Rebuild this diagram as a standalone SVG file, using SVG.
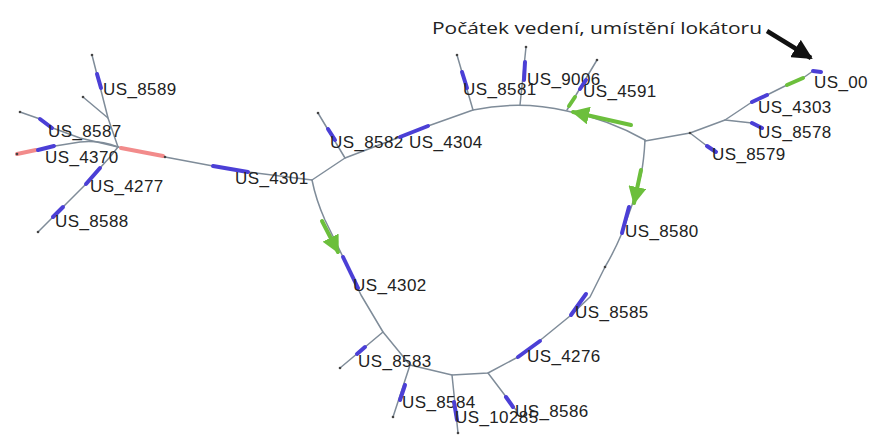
<svg xmlns="http://www.w3.org/2000/svg" width="869" height="436" viewBox="0 0 869 436">
<defs>
<style>
.e{fill:none;stroke:#7f8c99;stroke-width:1.5;stroke-linecap:round;stroke-linejoin:round}
.b{fill:none;stroke:#4b3fd6;stroke-width:4;stroke-linecap:round}
.p{fill:none;stroke:#f28b8b;stroke-width:4;stroke-linecap:round}
.g{fill:none;stroke:#6cbf3c;stroke-width:4;stroke-linecap:round}
.l{font-family:"Liberation Sans",Arial,sans-serif;font-size:17px;fill:#222;letter-spacing:0.4px}
.t{font-family:"Open Sans","Noto Sans",sans-serif;font-size:17px;fill:#222}
.d{fill:#444}
</style>
<marker id="ga" viewBox="0 0 10 10" refX="9" refY="5" markerWidth="4.5" markerHeight="4.5" orient="auto" markerUnits="strokeWidth"><path d="M0,0 L10,5 L0,10 z" fill="#6cbf3c"/></marker>
<marker id="ka" viewBox="0 0 10 10" refX="9" refY="5" markerWidth="4.5" markerHeight="4.5" orient="auto" markerUnits="strokeWidth"><path d="M0,0 L10,5 L0,10 z" fill="#111"/></marker>
</defs>
<rect width="869" height="436" fill="#fff"/>
<g id="connectors">
<path class="e" d="M312,180 Q330,168 345,158 L400,137 L428,126 L473,110 Q520,100 567,111 Q610,120 645,140"/>
<path class="e" d="M645,140 Q644,160 641,175 L632,205 L622,233 Q614,252 605,267 L590,297 L570,316 L543,338 L518,357 L488,373 L452,375 L410,365 L383,332 L361,295 L343,257 L325,220 Q316,200 312,180"/>
<path class="e" d="M645,141 L690,133 L725,120 L752,102 L767,95 L787,85 L803,78 L813,71"/>
<path class="e" d="M690,133 L707,146 L716,152"/>
<path class="e" d="M725,120 L752,123 L763,128"/>
<path class="e" d="M312,180 L248,172 L213,166 L165,157 L118,147"/>
<path class="e" d="M118,147 L108,118 L92,55"/>
<path class="e" d="M108,118 L83,97"/>
<path class="e" d="M118,147 L80,138 L50,127 L40,119 L20,112"/>
<path class="e" d="M118,147 Q100,140 80,142 L55,146 L38,150 L17,154"/>
<path class="e" d="M118,147 L110,157 L100,168 L85,185 L63,207 L52,218 L38,232"/>
<path class="e" d="M345,158 L318,113"/>
<path class="e" d="M473,110 L457,55"/>
<path class="e" d="M520,105 L526,47"/>
<path class="e" d="M567,110 L597,60"/>
<path class="e" d="M383,332 L340,368"/>
<path class="e" d="M410,365 L393,417"/>
<path class="e" d="M452,375 L458,433"/>
<path class="e" d="M488,373 L516,410"/>
<path class="p" d="M121,148 L163,156"/>
<path class="p" d="M17,154 L36,150"/>
<path class="g" d="M631,125 L573,112" marker-end="url(#ga)"/>
<path class="g" d="M641,170 L634,203" marker-end="url(#ga)"/>
<path class="g" d="M322,221 L338,252" marker-end="url(#ga)"/>
<path class="g" d="M787,85 L803,78"/>
<path class="g" d="M569,106 L575,97"/>
<path d="M767,31 L811,58" fill="none" stroke="#111" stroke-width="4.5" marker-end="url(#ka)"/>
<g class="d">
<circle cx="92" cy="55" r="1.3"/><circle cx="83" cy="97" r="1.3"/><circle cx="20" cy="112" r="1.3"/><circle cx="17" cy="154" r="1.3"/><circle cx="38" cy="232" r="1.3"/>
<circle cx="318" cy="113" r="1.3"/><circle cx="457" cy="55" r="1.3"/><circle cx="526" cy="47" r="1.3"/><circle cx="597" cy="60" r="1.3"/>
<circle cx="340" cy="368" r="1.3"/><circle cx="393" cy="417" r="1.3"/><circle cx="458" cy="433" r="1.3"/><circle cx="165" cy="157" r="1.3"/><circle cx="605" cy="267" r="1.3"/><circle cx="690" cy="133" r="1.3"/>
</g>
</g>
<text class="t" x="432" y="34" textLength="330" lengthAdjust="spacingAndGlyphs">Počátek vedení, umístění lokátoru</text>
<g id="n8589"><path class="b" d="M97,74 L101,88"/><text class="l" x="103" y="95">US_8589</text></g>
<g id="n8587"><path class="b" d="M40,119 L52,128"/><text class="l" x="48" y="137">US_8587</text></g>
<g id="n4370"><path class="b" d="M38,150 L54,146"/><text class="l" x="45" y="163">US_4370</text></g>
<g id="n4277"><path class="b" d="M100,168 L86,184"/><text class="l" x="90" y="192">US_4277</text></g>
<g id="n8588"><path class="b" d="M63,207 L53,217"/><text class="l" x="55" y="227">US_8588</text></g>
<g id="n4301"><path class="b" d="M213,166 L248,172"/><text class="l" x="235" y="184">US_4301</text></g>
<g id="n8582"><path class="b" d="M328,129 L335,140"/><text class="l" x="330" y="148">US_8582</text></g>
<g id="n4304"><path class="b" d="M400,137 L428,126"/><text class="l" x="409" y="148">US_4304</text></g>
<g id="n8581"><path class="b" d="M462,72 L467,88"/><text class="l" x="463" y="95">US_8581</text></g>
<g id="n9006"><path class="b" d="M525,62 L524,80"/><text class="l" x="527" y="85">US_9006</text></g>
<g id="n4591"><path class="b" d="M580,89 L586,80"/><text class="l" x="583" y="97">US_4591</text></g>
<g id="n00"><path class="b" d="M813,71 L821,72"/><text class="l" x="814" y="88">US_00</text></g>
<g id="n4303"><path class="b" d="M752,102 L767,95"/><text class="l" x="758" y="113">US_4303</text></g>
<g id="n8578"><path class="b" d="M752,123 L762,128"/><text class="l" x="758" y="138">US_8578</text></g>
<g id="n8579"><path class="b" d="M707,146 L716,152"/><text class="l" x="712" y="160">US_8579</text></g>
<g id="n8580"><path class="b" d="M629,207 L622,233"/><text class="l" x="625" y="237">US_8580</text></g>
<g id="n4302"><path class="b" d="M343,257 L358,288"/><text class="l" x="353" y="291">US_4302</text></g>
<g id="n8585"><path class="b" d="M586,294 L571,315"/><text class="l" x="575" y="318">US_8585</text></g>
<g id="n4276"><path class="b" d="M540,341 L518,357"/><text class="l" x="527" y="362">US_4276</text></g>
<g id="n8583"><path class="b" d="M365,347 L357,354"/><text class="l" x="358" y="367">US_8583</text></g>
<g id="n8584"><path class="b" d="M405,385 L400,400"/><text class="l" x="402" y="408">US_8584</text></g>
<g id="n10285"><path class="b" d="M454,402 L457,420"/><text class="l" x="455" y="423">US_10285</text></g>
<g id="n8586"><path class="b" d="M506,397 L513,407"/><text class="l" x="515" y="417">US_8586</text></g>
</svg>
